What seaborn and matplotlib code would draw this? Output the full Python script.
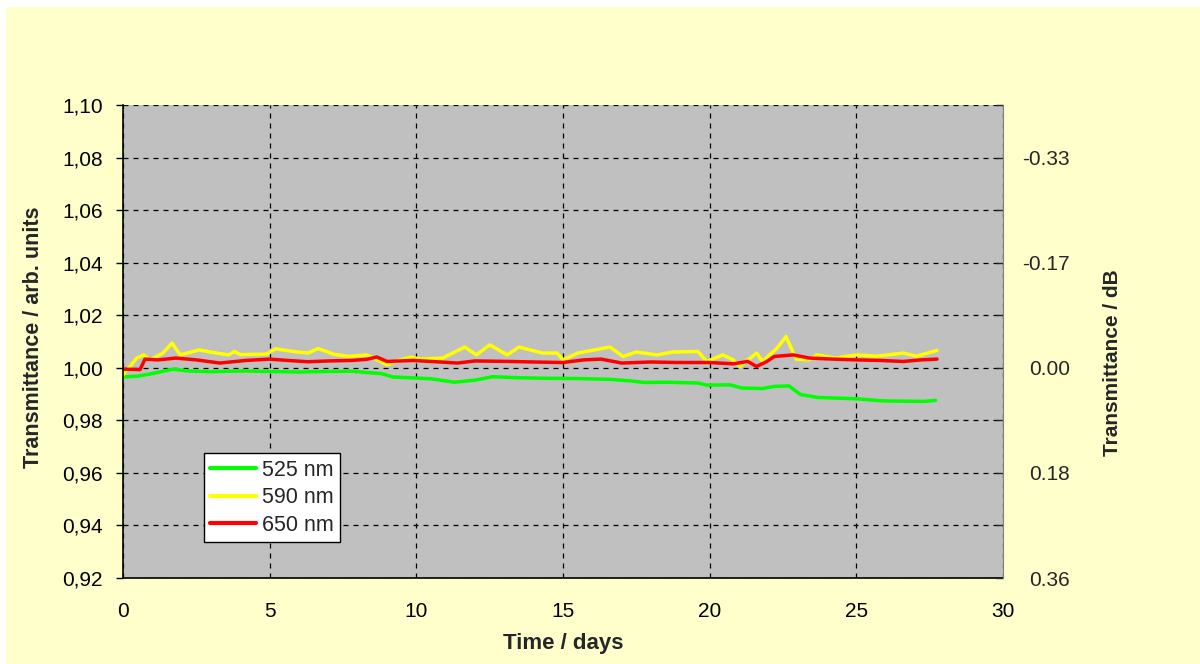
import numpy as np
import pandas as pd
import matplotlib
matplotlib.use("Agg")
import matplotlib.pyplot as plt
import seaborn as sns

# Data (day, transmittance)
days_525 = [0, 0.5, 1.0, 1.7, 2.2, 3, 4, 5, 6, 7, 7.8, 8.3, 8.8, 9.2, 10, 10.5, 11.3, 12, 12.6,
            13.5, 14.5, 15.5, 16.6, 17.3, 17.8, 18.5, 19.6, 19.9, 20.7, 21.1, 21.8, 22.2, 22.7,
            23.1, 23.7, 25, 25.9, 26.5, 27.3, 27.7]
vals_525 = [0.9965, 0.9968, 0.9978, 0.9995, 0.9988, 0.9985, 0.9988, 0.9986, 0.9984, 0.9986,
            0.9987, 0.9982, 0.9978, 0.9965, 0.9961, 0.9958, 0.9945, 0.9953, 0.9966, 0.9962,
            0.9960, 0.9959, 0.9956, 0.9950, 0.9944, 0.9945, 0.9942, 0.9934, 0.9935, 0.9923,
            0.9921, 0.9929, 0.9931, 0.9898, 0.9887, 0.9882, 0.9874, 0.9873, 0.9872, 0.9876]

days_590 = [0, 0.47, 0.7, 0.92, 1.36, 1.67, 1.95, 2.6, 2.97, 3.6, 3.8, 4, 4.9, 5.2, 5.8, 6.3,
            6.65, 7.2, 7.7, 8.3, 8.5, 9, 9.45, 9.8, 10.2, 10.9, 11.65, 12.05, 12.5, 13.1, 13.5,
            14.3, 14.8, 15, 15.5, 16.6, 17.05, 17.5, 18.2, 18.75, 19.6, 19.9, 20.45, 20.8,
            21.03, 21.6, 21.8, 22.3, 22.6, 22.95, 23.4, 23.65, 24.3, 25, 25.7, 26.6, 27.05, 27.75]
vals_590 = [0.9973, 1.0037, 1.0049, 1.0030, 1.0056, 1.0094, 1.0049, 1.0068, 1.0060, 1.0049,
            1.0062, 1.0050, 1.0052, 1.0072, 1.0062, 1.0056, 1.0073, 1.0051, 1.0043, 1.0049,
            1.0040, 1.0011, 1.0030, 1.0040, 1.0033, 1.0037, 1.0079, 1.0049, 1.0087, 1.0049,
            1.0079, 1.0056, 1.0056, 1.0030, 1.0056, 1.0079, 1.0043, 1.0060, 1.0049, 1.0060,
            1.0062, 1.0024, 1.0049, 1.0030, 1.0005, 1.0056, 1.0024, 1.0075, 1.0119, 1.0033,
            1.0030, 1.0049, 1.0037, 1.0049, 1.0044, 1.0056, 1.0044, 1.0066]

days_650 = [0, 0.58, 0.75, 1.2, 1.8, 2.5, 3.3, 4.2, 5, 5.6, 6.3, 7, 7.8, 8.3, 8.65, 9, 9.9,
            10.5, 11.4, 12, 13.2, 14, 15, 15.7, 16.3, 17, 18, 18.9, 20, 20.8, 21.3, 21.6,
            21.95, 22.2, 22.85, 23.4, 24.2, 25, 25.8, 26.6, 27.2, 27.75]
vals_650 = [0.9995, 0.9993, 1.0033, 1.0030, 1.0037, 1.0030, 1.0018, 1.0028, 1.0033, 1.0028,
            1.0023, 1.0026, 1.0028, 1.0032, 1.0041, 1.0024, 1.0028, 1.0024, 1.0018, 1.0026,
            1.0024, 1.0022, 1.0020, 1.0030, 1.0033, 1.0018, 1.0022, 1.0020, 1.0020, 1.0015,
            1.0024, 1.0005, 1.0024, 1.0043, 1.0049, 1.0037, 1.0033, 1.0030, 1.0028, 1.0024,
            1.0030, 1.0033]

series_names = ["525 nm", "590 nm", "650 nm"]
series_colors = ["#00FF00", "#FFFF00", "#FF0000"]

y_ticks = [0.92, 0.94, 0.96, 0.98, 1.00, 1.02, 1.04, 1.06, 1.08, 1.10]
y_labels = ["0,92", "0,94", "0,96", "0,98", "1,00", "1,02", "1,04", "1,06", "1,08", "1,10"]
db_labels = ["0.36", "", "0.18", "", "0.00", "", "-0.17", "", "-0.33", ""]
x_ticks = [0, 5, 10, 15, 20, 25, 30]

df = pd.concat([
    pd.DataFrame({"day": days_525, "value": vals_525, "series": "525 nm"}),
    pd.DataFrame({"day": days_590, "value": vals_590, "series": "590 nm"}),
    pd.DataFrame({"day": days_650, "value": vals_650, "series": "650 nm"}),
])

sns.set_style("white")
plt.rcParams['font.family'] = ['Liberation Sans', 'DejaVu Sans']

fig = plt.figure(figsize=(12, 6.64), dpi=100, facecolor="white")
# pale yellow chart area with thin white margin at top/left
fig.patches.append(plt.Rectangle((6 / 1200, 0), 1, 657 / 664, transform=fig.transFigure,
                                 facecolor="#FFFFCC", edgecolor="none", zorder=-10))
ax = fig.add_axes([123 / 1200, 1 - 578 / 664, 880 / 1200, 473 / 664])
ax.set_facecolor("#C0C0C0")

sns.lineplot(data=df, x="day", y="value", hue="series", hue_order=series_names,
             palette=series_colors, linewidth=2.5, ax=ax, sort=False)

ax.set_xlim(0, 30)
ax.set_ylim(0.92, 1.10)
ax.set_xticks(x_ticks)
ax.set_xticklabels([str(t) for t in x_ticks])
ax.set_yticks(y_ticks)
ax.set_yticklabels(y_labels)
ax.tick_params(axis="both", direction="out", length=5, width=1, labelsize=15, colors="black")
ax.tick_params(axis="y", pad=9.5)
ax.tick_params(axis="x", pad=12.5)
ax.grid(True, color="black", linestyle=(0, (4, 4)), linewidth=0.9)
for side in ["top", "right"]:
    ax.spines[side].set_visible(False)
for side in ["left", "bottom"]:
    ax.spines[side].set_color("black")
    ax.spines[side].set_linewidth(1.2)

ax.set_xlabel("Time / days", fontsize=16, fontweight="bold")
ax.xaxis.set_label_coords(0.5, -0.116)
ax.set_ylabel("Transmittance / arb. units", fontsize=15.5, fontweight="bold")
ax.yaxis.set_label_coords(-0.090, 0.51)

# right axis in dB
ax2 = ax.twinx()
ax2.set_ylim(0.92, 1.10)
ax2.set_yticks(y_ticks)
ax2.set_yticklabels(db_labels)
ax2.tick_params(axis="y", direction="in", length=5, width=1, labelsize=15, pad=48)
for lbl in ax2.get_yticklabels():
    lbl.set_horizontalalignment("right")
for side in ["top", "left", "bottom"]:
    ax2.spines[side].set_visible(False)
ax2.spines["right"].set_color("#808080")
ax2.set_ylabel("Transmittance / dB", fontsize=15, fontweight="bold")
ax2.yaxis.set_label_coords(1.1136, 0.456)

handles, labels = ax.get_legend_handles_labels()
leg = ax.legend(handles, labels, loc="lower left", bbox_to_anchor=(0.092, 0.076),
                borderaxespad=0, fontsize=15.5, frameon=True, fancybox=False,
                edgecolor="black", framealpha=1, facecolor="white", handlelength=2.1,
                borderpad=0.3, labelspacing=0.3, handletextpad=0.3)
leg.get_frame().set_linewidth(1.0)
for line in leg.get_lines():
    line.set_linewidth(3)

fig.savefig("out.png", dpi=100)
